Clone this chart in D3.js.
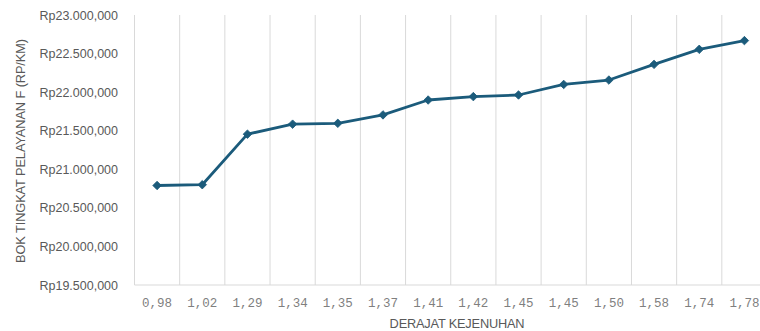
<!DOCTYPE html>
<html>
<head>
<meta charset="utf-8">
<script src="https://cdn.jsdelivr.net/npm/d3@7"></script>
<style>
  html, body { margin: 0; padding: 0; background: #fff; }
  svg { display: block; }
</style>
</head>
<body>
<svg id="chart" width="760" height="331"></svg>
<script>
// Degree of saturation (category labels along the x axis)
const categories = ["0,98","1,02","1,29","1,34","1,35","1,37","1,41","1,42","1,45","1,45","1,50","1,58","1,74","1,78"];
// BOK at service level F (Rp/km)
const bokValues = [20790000, 20800000, 21455000, 21585000, 21596000, 21705000, 21898000, 21942000, 21963000, 22100000, 22157000, 22360000, 22555000, 22668000];
// Y axis ticks
const yTicks = [19500000, 20000000, 20500000, 21000000, 21500000, 22000000, 22500000, 23000000];

const svg = d3.select("#chart");
const margin = { left: 134.5, right: -7, top: 15, bottom: 46 };
const W = 760, H = 331;

const x = d3.scaleBand()
  .domain(d3.range(categories.length))
  .range([margin.left, W - margin.right])
  .paddingInner(0).paddingOuter(0);

const y = d3.scaleLinear()
  .domain([19500000, 23000000])
  .range([H - margin.bottom, margin.top]);

// Rp formatting: "Rp23.000,000"
const fmtRp = v => {
  const s = String(Math.round(v));
  const a = s.slice(0, s.length - 6), b = s.slice(-6, -3), c = s.slice(-3);
  return "Rp" + a + "." + b + "," + c;
};

// vertical gridlines at category boundaries
const bounds = d3.range(categories.length + 1).map(i => margin.left + i * x.step());
svg.append("g")
  .selectAll("line")
  .data(bounds)
  .join("line")
  .attr("x1", d => d).attr("x2", d => d)
  .attr("y1", y(23000000)).attr("y2", y(19500000))
  .attr("stroke", "#d9d9d9").attr("stroke-width", 1);

// baseline
svg.append("line")
  .attr("x1", margin.left).attr("x2", W)
  .attr("y1", y(19500000)).attr("y2", y(19500000))
  .attr("stroke", "#d9d9d9").attr("stroke-width", 1);

// y axis labels
const yAxis = d3.axisLeft(y).tickValues(yTicks).tickFormat(fmtRp).tickSize(0).tickPadding(0);
const gy = svg.append("g").attr("transform", `translate(118,0)`).call(yAxis);
gy.select(".domain").remove();
gy.selectAll("text")
  .attr("fill", "#595959")
  .style("font-family", "'Liberation Sans', Arial, sans-serif")
  .style("font-size", "12.5px");

// x axis labels
const xAxis = d3.axisBottom(x).tickFormat(i => categories[i]).tickSize(0).tickPadding(0);
const gx = svg.append("g").attr("transform", `translate(0,${y(19500000) + 18})`).call(xAxis);
gx.select(".domain").remove();
gx.selectAll("text")
  .attr("fill", "#7f7f7f")
  .attr("dy", "0.35em")
  .attr("y", 0)
  .style("font-family", "'Liberation Mono', 'DejaVu Sans Mono', monospace")
  .style("font-size", "12.5px");

// axis titles
svg.append("text")
  .attr("x", 457).attr("y", 327.5)
  .attr("text-anchor", "middle")
  .attr("fill", "#595959")
  .style("font-family", "'Liberation Sans', Arial, sans-serif")
  .style("font-size", "12.8px")
  .style("letter-spacing", "-0.2px")
  .text("DERAJAT KEJENUHAN");

svg.append("text")
  .attr("transform", `translate(24.5,151) rotate(-90)`)
  .attr("text-anchor", "middle")
  .attr("fill", "#595959")
  .style("font-family", "'Liberation Sans', Arial, sans-serif")
  .style("font-size", "12.8px")
  .style("letter-spacing", "-0.1px")
  .text("BOK TINGKAT PELAYANAN F (RP/KM)");

// line
const cx = i => x(i) + x.bandwidth() / 2;
const line = d3.line().x((d, i) => cx(i)).y(d => y(d));
const color = "#1b5b7b";
svg.append("path")
  .datum(bokValues)
  .attr("d", line)
  .attr("fill", "none")
  .attr("stroke", color)
  .attr("stroke-width", 2.8)
  .attr("stroke-linejoin", "round");

// diamond markers (square rotated 45°)
const diamond = d3.symbol().type(d3.symbolSquare).size(36);
svg.append("g")
  .selectAll("path")
  .data(bokValues)
  .join("path")
  .attr("d", diamond)
  .attr("transform", (d, i) => `translate(${cx(i)},${y(d)}) rotate(45)`)
  .attr("fill", color)
  .attr("stroke", color)
  .attr("stroke-width", 0.8);
</script>
</body>
</html>
